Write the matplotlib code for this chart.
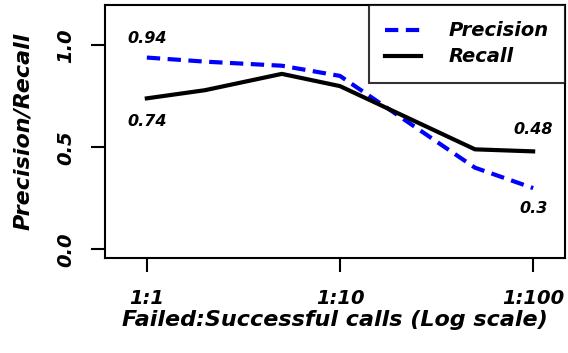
import matplotlib
matplotlib.use("Agg")
import matplotlib.pyplot as plt

plt.rcParams['font.family'] = ['DejaVu Sans']
plt.rcParams['font.weight'] = 'bold'
plt.rcParams['font.style'] = 'italic'

ratio = [1, 2, 5, 10, 50, 100]
precision = [0.94, 0.92, 0.90, 0.85, 0.40, 0.30]
recall = [0.74, 0.78, 0.86, 0.80, 0.49, 0.48]
xticks = [1, 10, 100]
xticklabels = ['1:1', '1:10', '1:100']

fig = plt.figure(figsize=(5.68, 3.53), dpi=100)
ax = fig.add_axes([0.185, 0.269, 0.81, 0.717])

ax.plot(ratio, precision, color='blue', lw=3, dashes=(3.2, 1.8), label='Precision')
ax.plot(ratio, recall, color='black', lw=3, label='Recall')

ax.set_xscale('log')
ax.set_xlim(0.608, 146.5)
ax.set_ylim(-0.043, 1.198)
ax.set_xticks(xticks)
ax.set_xticklabels(xticklabels)
ax.minorticks_off()
ax.set_yticks([0.0, 0.5, 1.0])
ax.set_yticklabels(['0.0', '0.5', '1.0'], rotation=90, va='center')

ax.tick_params(length=10, width=1.5, labelsize=14)
ax.tick_params(axis='x', pad=12.5)
ax.tick_params(axis='y', pad=11.5)
for s in ax.spines.values():
    s.set_linewidth(1.5)

ax.set_xlabel('Failed:Successful calls (Log scale)', fontsize=16, fontweight='bold', labelpad=1.5)
ax.set_ylabel('Precision/Recall', fontsize=16, fontweight='bold', labelpad=17)

ax.annotate(f'{precision[0]:g}', (ratio[0], precision[0]), xytext=(0, 14), textcoords='offset points',
            ha='center', va='center', fontsize=11.5)
ax.annotate(f'{recall[0]:g}', (ratio[0], recall[0]), xytext=(0, -17), textcoords='offset points',
            ha='center', va='center', fontsize=11.5)
ax.annotate(f'{recall[-1]:g}', (ratio[-1], recall[-1]), xytext=(0, 16), textcoords='offset points',
            ha='center', va='center', fontsize=11.5)
ax.annotate(f'{precision[-1]:g}', (ratio[-1], precision[-1]), xytext=(0, -15), textcoords='offset points',
            ha='center', va='center', fontsize=11.5)

leg = ax.legend(loc='upper right', fontsize=14, frameon=True, fancybox=False,
                borderaxespad=0, handlelength=1.85, handletextpad=1.4, borderpad=0.85,
                labelspacing=0.36)
leg.get_frame().set_edgecolor('black')
leg.get_frame().set_linewidth(1.5)

fig.savefig('out.png', dpi=100)
